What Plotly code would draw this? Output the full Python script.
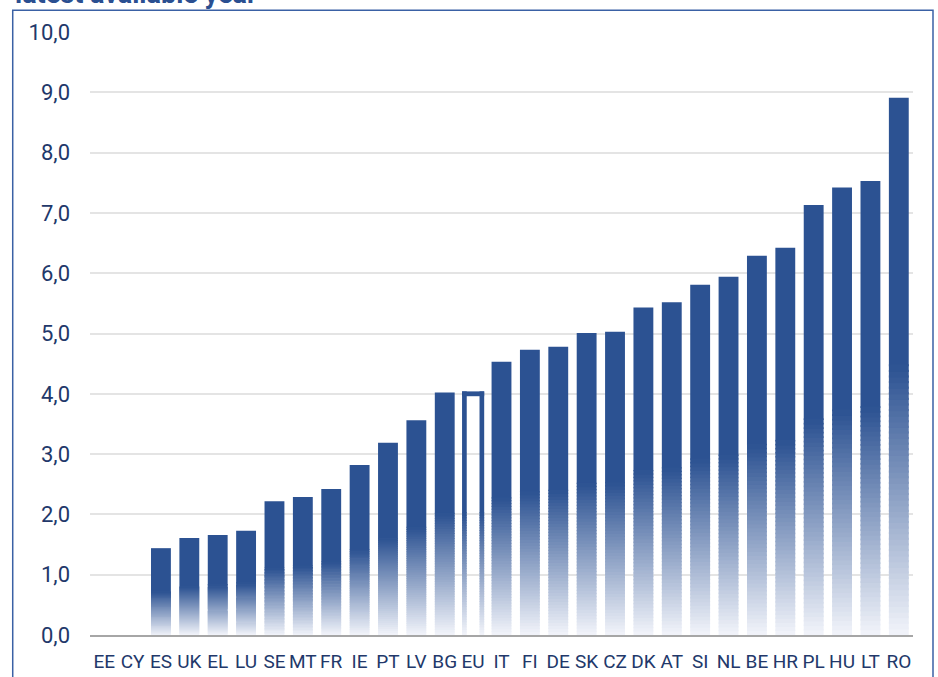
import plotly.graph_objects as go

# Country codes in display order and their values
countries = ["EE", "CY", "ES", "UK", "EL", "LU", "SE", "MT", "FR", "IE", "PT", "LV", "BG",
             "EU", "IT", "FI", "DE", "SK", "CZ", "DK", "AT", "SI", "NL", "BE", "HR", "PL",
             "HU", "LT", "RO"]
values = [0.0, 0.0, 1.44, 1.61, 1.66, 1.73, 2.22, 2.29, 2.42, 2.82, 3.19, 3.56, 4.02,
          4.04, 4.53, 4.73, 4.78, 5.01, 5.03, 5.43, 5.52, 5.81, 5.94, 6.29, 6.42, 7.13,
          7.42, 7.53, 8.91]
y_ticks = [0, 1, 2, 3, 4, 5, 6, 7, 8, 9, 10]
highlight = "EU"
title_text = "latest available year"

# Styling
DARK = (44, 82, 146)
LIGHT = (242, 244, 250)
TEXT = "#22386a"
FONT = "Roboto"
BAR_W = 0.70       # regular bar width (category units)
HL_W = 0.78        # outer width of the outlined bar
HL_SIDE = 0.165    # side stroke width of the outlined bar
HL_CAP = 0.08      # top stroke height of the outlined bar (data units)
FADE_TOP = 0.5     # fraction of the bar height where the fade starts
N_FADE = 48

# Each bar is split into pieces (category, value, lower, upper, offset, width)
pieces = []
for c, v in zip(countries, values):
    if c == highlight:
        pieces.append((c, v, 0.0, v, -HL_W / 2, HL_SIDE))
        pieces.append((c, v, 0.0, v, HL_W / 2 - HL_SIDE, HL_SIDE))
        pieces.append((c, v, v - HL_CAP, v, -HL_W / 2, HL_W))
    else:
        pieces.append((c, v, 0.0, v, -BAR_W / 2, BAR_W))


def mix(t):
    r, g, b = (round(LIGHT[i] + (DARK[i] - LIGHT[i]) * t) for i in range(3))
    return f"rgb({r},{g},{b})"


# Vertical colour bands: solid upper half, fading lower half
bands = [(FADE_TOP, 1.0, mix(1.0), 0.0)]
for k in range(N_FADE):
    f0 = FADE_TOP * k / N_FADE
    f1 = FADE_TOP * (k + 1) / N_FADE
    bands.append((f0, f1, mix((k + 0.5) / N_FADE), 0.004))

fig = go.Figure()
for f0, f1, col, overlap in bands:
    xs, bases, heights, offs, widths = [], [], [], [], []
    for c, v, lo, hi, off, w in pieces:
        b0 = max(lo, v * f0)
        b1 = min(hi, v * f1)
        h = max(0.0, b1 - b0)
        if h > 0:
            h += v * overlap
        xs.append(c)
        bases.append(b0)
        heights.append(h)
        offs.append(off)
        widths.append(w)
    fig.add_trace(go.Bar(
        x=xs, y=heights, base=bases, offset=offs, width=widths,
        marker=dict(color=col, line=dict(width=0)),
        hoverinfo="skip", showlegend=False,
    ))

fig.update_layout(
    width=938, height=677, autosize=False,
    margin=dict(l=90, r=25, t=32, b=42),
    paper_bgcolor="white", plot_bgcolor="white",
    barmode="overlay",
    separators=",.",
    font=dict(family=FONT, color=TEXT),
    showlegend=False,
)
fig.update_xaxes(
    type="category", categoryorder="array", categoryarray=countries,
    showgrid=False, showline=True, linecolor="#a6a6a6", linewidth=2,
    ticks="", tickfont=dict(size=19, color=TEXT, family=FONT),
    ticklabelstandoff=8, automargin=False, fixedrange=True,
)
fig.update_yaxes(
    range=[0, 10], tickvals=y_ticks, tickformat=".1f",
    showgrid=True, gridcolor="#e4e4e4", gridwidth=1.5,
    zeroline=False, showline=False, ticks="",
    tickfont=dict(size=22, color=TEXT, family=FONT),
    ticklabelstandoff=19, automargin=False, fixedrange=True,
)

# Surrounding frame
fig.add_shape(type="rect", xref="paper", yref="paper",
              x0=-0.0939, x1=1.0243, y0=-0.2, y1=1.036,
              line=dict(color="#3a61a5", width=1.5), fillcolor="rgba(0,0,0,0)",
              layer="above")

# Title (last line)
fig.add_annotation(text=f"<b>{title_text}</b>", xref="paper", yref="paper",
                   x=-0.0936, y=1, xanchor="left", yanchor="bottom", yshift=20,
                   showarrow=False, font=dict(size=27, color="#2a4f91", family=FONT))

fig.write_html("out.html")
